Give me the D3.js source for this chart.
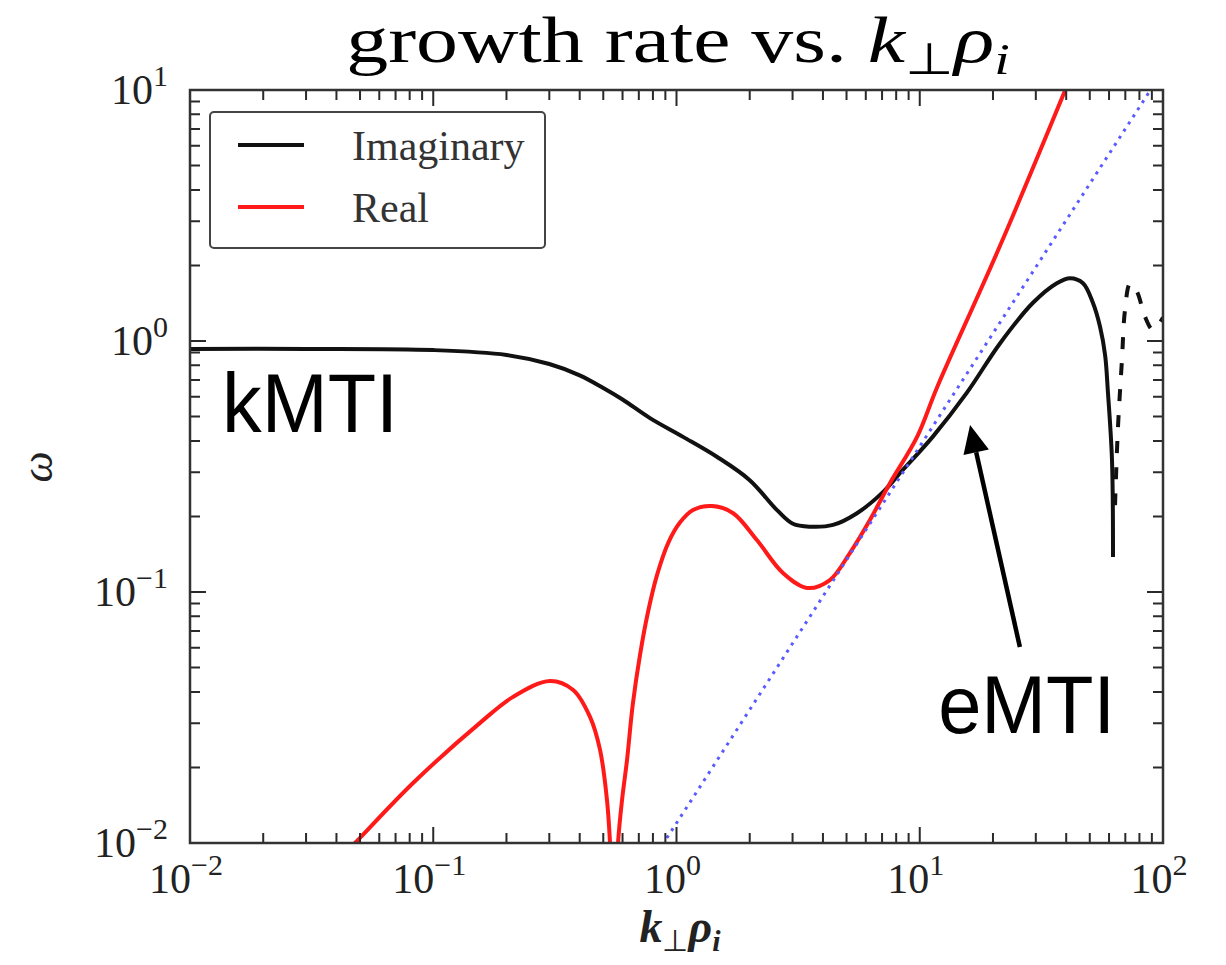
<!DOCTYPE html>
<html>
<head>
<meta charset="utf-8">
<script src="https://cdn.jsdelivr.net/npm/d3@7"></script>
<style>
  html, body { margin: 0; padding: 0; background: #fff; }
  svg { display: block; }
</style>
</head>
<body>
<svg id="chart" width="1226" height="965"></svg>
<script>
// Imaginary part of the frequency (growth rate), main branch
const kImag = [0.01, 0.03, 0.1, 0.2, 0.3, 0.4, 0.5, 0.6, 0.778, 1.064, 1.47, 2.0, 2.59, 3.01, 3.54, 4.40, 5.52, 7.06, 8.30, 11.3, 15.6, 21.4, 29.2, 36.6, 41.5, 46.9, 51.5, 55.1, 57.8, 59.4, 61.7, 62.3];
const omegaImag = [0.93, 0.93, 0.92, 0.88, 0.81, 0.73, 0.65, 0.585, 0.493, 0.415, 0.345, 0.279, 0.212, 0.187, 0.182, 0.185, 0.206, 0.250, 0.298, 0.415, 0.621, 0.98, 1.42, 1.70, 1.78, 1.70, 1.42, 1.14, 0.88, 0.621, 0.336, 0.138];

// Imaginary part, second branch at the largest k (dashed)
const kImagHigh = [63.5, 65.3, 67.8, 69.8, 73.2, 78.2, 84.3, 90.9, 100];
const omegaImagHigh = [0.222, 0.454, 0.84, 1.33, 1.69, 1.57, 1.25, 1.11, 1.24];

// Real part of the frequency
const kReal = [0.04, 0.0477, 0.0826, 0.1557, 0.2128, 0.302, 0.376, 0.441, 0.485, 0.518, 0.533, 0.545, 0.555, 0.565, 0.575, 0.597, 0.626, 0.661, 0.708, 0.764, 0.832, 0.925, 1.033, 1.169, 1.40, 1.71, 2.14, 2.74, 3.44, 4.27, 5.16, 6.24, 7.55, 9.75, 11.8, 21.4, 45.6];
const omegaReal = [0.0084, 0.01, 0.01734, 0.0301, 0.0382, 0.0442, 0.0407, 0.0318, 0.0235, 0.0148, 0.0100, 0.006, 0.004, 0.006, 0.0100, 0.0148, 0.0214, 0.0356, 0.0562, 0.0834, 0.117, 0.157, 0.189, 0.212, 0.220, 0.206, 0.161, 0.119, 0.1038, 0.1116, 0.143, 0.1936, 0.272, 0.415, 0.656, 2.4, 13.9];

// Large-k asymptote (blue dotted)
const kAsym = [0.8, 1, 10, 90];
const omegaAsym = [0.0086, 0.012, 0.38, 10.2];

// Axis decades and their exponent labels
const xDecades = [1e-2, 1e-1, 1, 10, 100];
const xExponents = ["\u22122", "\u22121", "0", "1", "2"];
const yDecades = [1e-2, 1e-1, 1, 10];
const yExponents = ["\u22122", "\u22121", "0", "1"];

const legendLabels = ["Imaginary", "Real"];
const legendColors = ["#111", "#ff1a1a"];

const svg = d3.select("#chart");
const L = 190, R = 1163, T = 90, B = 843;

const x = d3.scaleLog().domain([1e-2, 1e2]).range([L, R]);
const y = d3.scaleLog().domain([1e-2, 1e1]).range([B, T]);

const zip = (a, b) => a.map((v, i) => [v, b[i]]);
const serif = "'Liberation Serif', 'Times New Roman', serif";

svg.append("defs").append("clipPath").attr("id", "plotClip")
  .append("rect").attr("x", L).attr("y", T).attr("width", R - L).attr("height", B - T);

const curve = d3.line().x(d => x(d[0])).y(d => y(d[1])).curve(d3.curveCatmullRom.alpha(0.5));
const straight = d3.line().x(d => x(d[0])).y(d => y(d[1]));

const plot = svg.append("g").attr("clip-path", "url(#plotClip)");

plot.append("path").datum(zip(kImag, omegaImag))
  .attr("d", curve).attr("fill", "none")
  .attr("stroke", "#111").attr("stroke-width", 4).attr("stroke-linejoin", "round");

plot.append("path").datum(zip(kImagHigh, omegaImagHigh))
  .attr("d", curve).attr("fill", "none")
  .attr("stroke", "#111").attr("stroke-width", 4).attr("stroke-dasharray", "12,14");

plot.append("path").datum(zip(kReal, omegaReal))
  .attr("d", curve).attr("fill", "none")
  .attr("stroke", "#ff1a1a").attr("stroke-width", 4).attr("stroke-linejoin", "round");

plot.append("path").datum(zip(kAsym, omegaAsym))
  .attr("d", straight).attr("fill", "none")
  .attr("stroke", "#5a5aff").attr("stroke-width", 3).attr("stroke-dasharray", "3,5.5");

// Inward ticks on all four sides, placed by the log scales
const isMajor = v => Math.abs(Math.log10(v) - Math.round(Math.log10(v))) < 1e-9;
const tickLen = v => isMajor(v) ? 16 : 10;
const xTickVals = x.ticks();
const yTickVals = y.ticks();

function tickPath(vals, horizontal, edge, dir) {
  const p = d3.path();
  vals.forEach(v => {
    const len = tickLen(v) * dir;
    if (horizontal) { p.moveTo(x(v), edge); p.lineTo(x(v), edge + len); }
    else { p.moveTo(edge, y(v)); p.lineTo(edge + len, y(v)); }
  });
  return p.toString();
}
const tickG = svg.append("g").attr("fill", "none").attr("stroke", "#2a2a2a").attr("stroke-width", 2);
tickG.append("path").attr("d", tickPath(xTickVals, true, B, -1));
tickG.append("path").attr("d", tickPath(xTickVals, true, T, 1));
tickG.append("path").attr("d", tickPath(yTickVals, false, L, 1));
tickG.append("path").attr("d", tickPath(yTickVals, false, R, -1));

svg.append("rect").attr("x", L).attr("y", T).attr("width", R - L).attr("height", B - T)
  .attr("fill", "none").attr("stroke", "#333").attr("stroke-width", 2.5);

// Tick labels as powers of ten
function powerLabel(sel, exp) {
  sel.append("tspan").text("10");
  sel.append("tspan").attr("font-size", 30).attr("dy", -18).text(exp);
}
xDecades.forEach((v, i) => {
  svg.append("text").attr("x", x(v) - 4).attr("y", B + 50)
    .attr("text-anchor", "middle").attr("font-family", serif).attr("font-size", 42).attr("fill", "#222")
    .call(powerLabel, xExponents[i]);
});
yDecades.forEach((v, i) => {
  svg.append("text").attr("x", L - 22).attr("y", y(v) + 14)
    .attr("text-anchor", "end").attr("font-family", serif).attr("font-size", 42).attr("fill", "#222")
    .call(powerLabel, yExponents[i]);
});

// Axis titles
svg.append("text").attr("transform", "translate(52,467) rotate(-90)")
  .attr("text-anchor", "middle").attr("font-family", serif).attr("font-style", "italic")
  .attr("font-size", 44).attr("fill", "#222").text("\u03c9");

const xl = svg.append("text").attr("x", 680).attr("y", 942)
  .attr("text-anchor", "middle").attr("font-family", serif).attr("font-size", 46).attr("fill", "#222");
xl.append("tspan").attr("font-style", "italic").attr("font-weight", "bold").text("k");
xl.append("tspan").attr("font-size", 30).attr("dy", 9).text("\u22a5");
xl.append("tspan").attr("font-style", "italic").attr("font-weight", "bold").attr("dy", -9).text("\u03c1");
xl.append("tspan").attr("font-style", "italic").attr("font-weight", "bold").attr("font-size", 30).attr("dy", 9).text("i");

// Title, stretched to the width of the heading
const tg = svg.append("g").attr("transform", "translate(678,62)");
const tt = tg.append("text").attr("text-anchor", "middle").attr("font-family", serif)
  .attr("font-size", 66).attr("fill", "#000");
tt.append("tspan").text("growth rate vs. ");
tt.append("tspan").attr("font-style", "italic").text("k");
tt.append("tspan").attr("font-size", 44).attr("dy", 12).text("\u22a5");
tt.append("tspan").attr("font-style", "italic").attr("dy", -12).text("\u03c1");
tt.append("tspan").attr("font-style", "italic").attr("font-size", 44).attr("dy", 12).text("i");
const tw = tt.node().getBBox().width;
tg.attr("transform", `translate(678,62) scale(${663 / tw},1)`);

// Legend
const lg = svg.append("g");
lg.append("rect").attr("x", 210).attr("y", 112).attr("width", 335).attr("height", 136).attr("rx", 4)
  .attr("fill", "#fff").attr("stroke", "#444").attr("stroke-width", 2);
legendLabels.forEach((name, i) => {
  const yy = 145 + i * 62;
  lg.append("line").attr("x1", 238).attr("x2", 304).attr("y1", yy).attr("y2", yy)
    .attr("stroke", legendColors[i]).attr("stroke-width", 4);
  lg.append("text").attr("x", 352).attr("y", yy + 15).attr("font-family", serif)
    .attr("font-size", 42).attr("fill", "#333").text(name);
});

// Annotations
const sans = "'Liberation Sans', Arial, sans-serif";
svg.append("text").attr("x", x(0.01355)).attr("y", y(0.434))
  .attr("font-family", sans).attr("font-size", 84).attr("fill", "#000")
  .attr("textLength", 176).attr("lengthAdjust", "spacingAndGlyphs").text("kMTI");
svg.append("text").attr("x", x(11.9)).attr("y", y(0.0274))
  .attr("font-family", sans).attr("font-size", 81).attr("fill", "#000")
  .attr("textLength", 177).attr("lengthAdjust", "spacingAndGlyphs").text("eMTI");

// Arrow pointing at the electron branch
const ax0 = x(25.8), ay0 = y(0.0604), ax1 = x(16.1), ay1 = y(0.463);
const ang = Math.atan2(ay1 - ay0, ax1 - ax0);
const headLen = 28, headHalf = 13;
const bx = ax1 - headLen * Math.cos(ang), by = ay1 - headLen * Math.sin(ang);
svg.append("line").attr("x1", ax0).attr("y1", ay0).attr("x2", bx).attr("y2", by)
  .attr("stroke", "#000").attr("stroke-width", 4.5);
svg.append("path")
  .attr("d", d3.line()([
    [ax1, ay1],
    [bx + headHalf * Math.sin(ang), by - headHalf * Math.cos(ang)],
    [bx - headHalf * Math.sin(ang), by + headHalf * Math.cos(ang)]
  ]) + "Z")
  .attr("fill", "#000");
</script>
</body>
</html>
